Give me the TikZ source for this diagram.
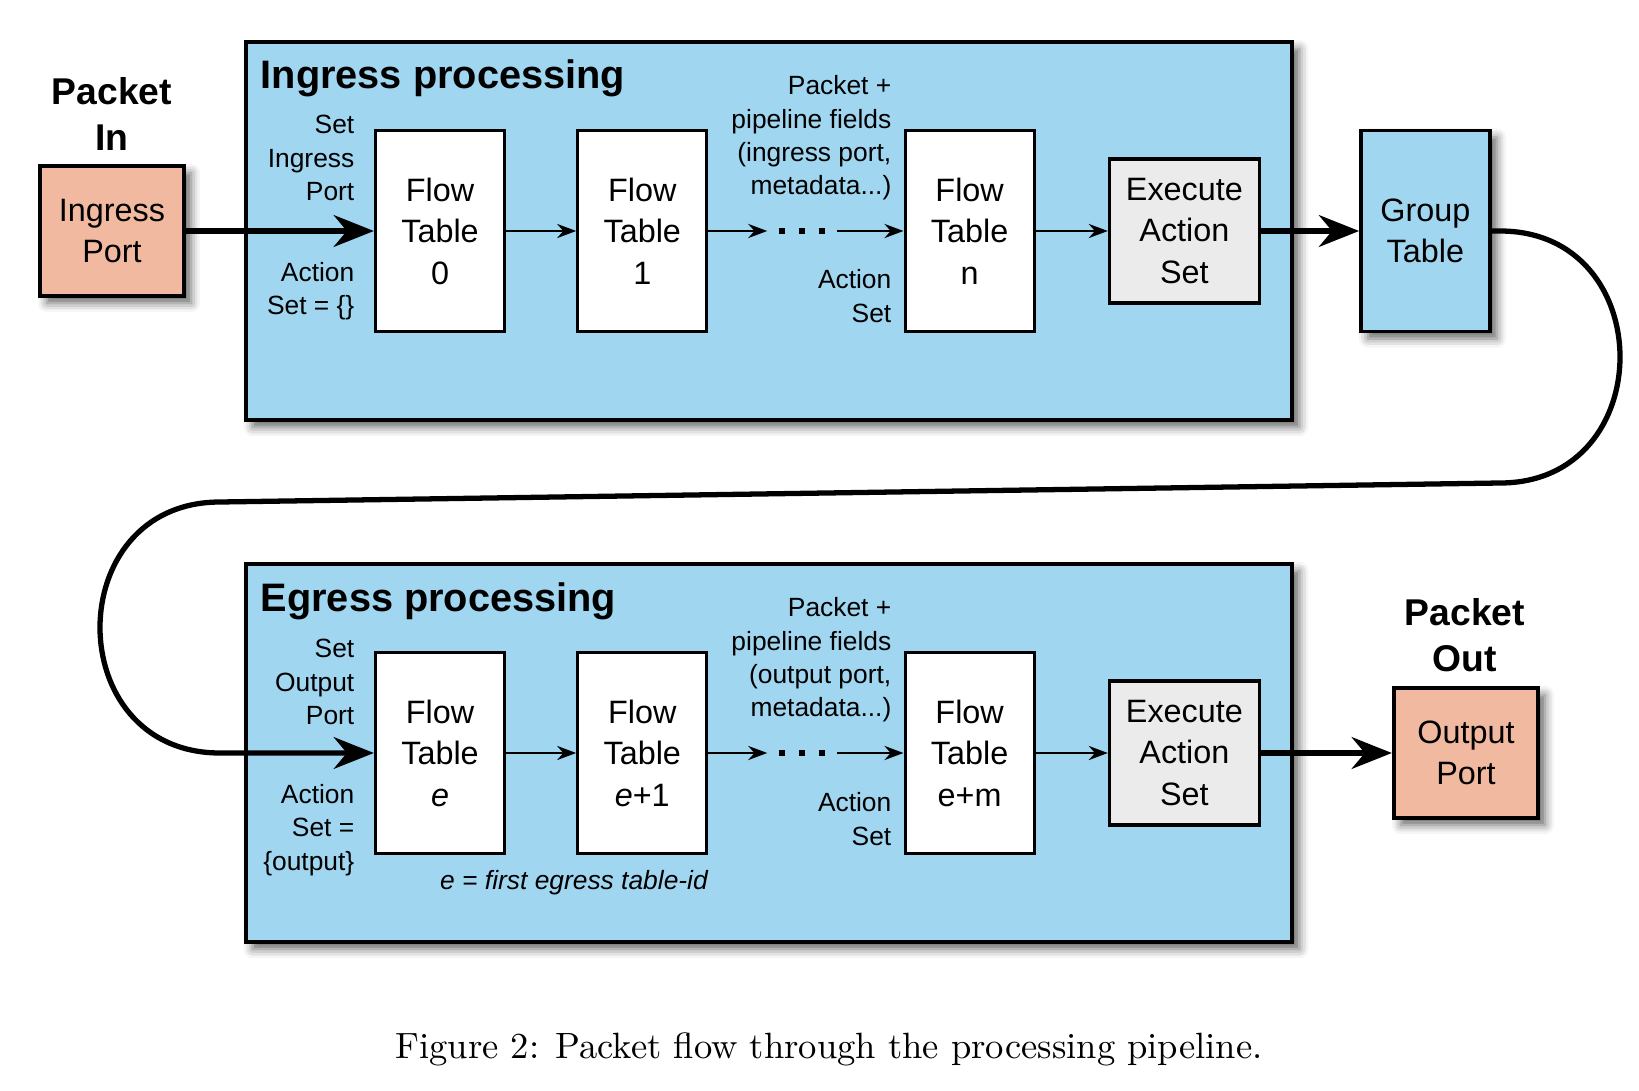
\documentclass[tikz,border=0pt]{standalone}
\usepackage{fontspec}
\usepackage{tikz}
\usetikzlibrary{positioning, arrows.meta, shadows.blur}
\newfontfamily\arialFont{Liberation Sans}
\newcommand{\tableFont}{\arialFont\fontsize{9.2}{11.8}\selectfont}
\newcommand{\noteFont}{\arialFont\fontsize{7.5}{9.5}\selectfont}
\newcommand{\stageFont}{\arialFont\bfseries\fontsize{11.3}{13.5}\selectfont}
\newcommand{\packetFont}{\arialFont\bfseries\fontsize{10.6}{13.1}\selectfont}
\definecolor{stageBlue}{RGB}{160,214,240}
\definecolor{portSalmon}{RGB}{240,185,160}
\definecolor{execGray}{RGB}{235,235,235}

\begin{document}
\begin{tikzpicture}[x=0.01cm, y=-0.01cm,
	boxshadow/.style={blur shadow={shadow xshift=0.7mm, shadow yshift=-0.7mm, shadow blur radius=0.9mm, shadow opacity=60}},
	stage/.style={draw, line width=1.1pt, fill=stageBlue, minimum width=10.46cm, minimum height=3.78cm, inner sep=0, boxshadow},
	flowtable/.style={draw, line width=0.9pt, fill=white, minimum width=1.29cm, minimum height=2.01cm, inner sep=0, align=center, font=\tableFont},
	execbox/.style={draw, line width=0.9pt, fill=execGray, minimum width=1.5cm, minimum height=1.44cm, inner sep=0, align=center, font=\tableFont},
	grouptable/.style={flowtable, fill=stageBlue, line width=1pt, boxshadow},
	portbox/.style={draw, line width=1.2pt, fill=portSalmon, minimum width=1.44cm, minimum height=1.3cm, inner sep=0, align=center, font=\tableFont, boxshadow},
	packet/.style={align=center, inner sep=0, font=\packetFont},
	note/.style={inner sep=0, align=right, font=\noteFont},
	dotsq/.style={fill, minimum size=0.55mm, inner sep=0, outer sep=1.2mm},
	arrow/.style={-{Stealth[length=5.4pt, width=4pt]}, line width=0.75pt},
	bigarrow/.style={-{Stealth[length=11.4pt, width=9pt]}, line width=1.7pt}]
	\useasboundingbox (0,0) rectangle (1639,1091);

	% ingress stage
	\node[stage] (ingress) at (769,231) {};
	\node[anchor=base west, inner sep=0, font=\stageFont] (ingresstitle) at (260,89) {Ingress processing};
	\node[flowtable] (ift0) at (440,231) {Flow\\Table\\0};
	\node[flowtable, right=7mm of ift0] (ift1) {Flow\\Table\\1};
	\node[flowtable, right=19.5mm of ift1] (iftn) {Flow\\Table\\n};
	\node[execbox, right=7.2mm of iftn] (iexec) {Execute\\Action\\Set};
	\node[grouptable, right=9.8mm of iexec] (group) {Group\\Table};
	\node[dotsq] (idotA) at (782,231) {};
	\node[dotsq] (idotB) at (802,231) {};
	\node[dotsq] (idotC) at (822,231) {};
	\node[note, anchor=east] (isetport) at (355,158) {Set\\Ingress\\Port};
	\node[note, anchor=east] (iaction) at (355,291) {Action\\Set = \{\}};
	\node[note, anchor=east] (ifields) at (892,138) {Packet +\\pipeline fields\\(ingress port,\\metadata...)};
	\node[note, anchor=east] (iactionset) at (892,296) {Action\\Set};
	\node[portbox] (inport) at (112,231) {Ingress\\Port};
	\node[packet] (packetin) at (112,114) {Packet\\In};

	% egress stage
	\node[stage] (egress) at (769,753) {};
	\node[anchor=base west, inner sep=0, font=\stageFont] (egresstitle) at (260,611) {Egress processing};
	\node[flowtable] (ete) at (440,753) {Flow\\Table\\\textit{e}};
	\node[flowtable, right=7mm of ete] (ete1) {Flow\\Table\\\textit{e}+1};
	\node[flowtable, right=19.5mm of ete1] (etem) {Flow\\Table\\e+m};
	\node[execbox, right=7.2mm of etem] (eexec) {Execute\\Action\\Set};
	\node[dotsq] (edotA) at (782,753) {};
	\node[dotsq] (edotB) at (802,753) {};
	\node[dotsq] (edotC) at (822,753) {};
	\node[note, anchor=east] (esetport) at (355,682) {Set\\Output\\Port};
	\node[note, anchor=east] (eaction) at (355,830) {Action\\Set =\\\{output\}};
	\node[note, anchor=east] (efields) at (892,660) {Packet +\\pipeline fields\\(output port,\\metadata...)};
	\node[note, anchor=east] (eactionset) at (892,819) {Action\\Set};
	\node[note, font=\noteFont\itshape] (etableid) at (574,883) {e = first egress table-id};
	\node[portbox] (outport) at (1466,753) {Output\\Port};
	\node[packet] (packetout) at (1465,635) {Packet\\Out};

	\node[anchor=base, inner sep=0, font=\fontsize{10.4}{12}\selectfont] (caption) at (829,1058) {Figure 2: Packet flow through the processing pipeline.};

	% connectors
	\draw[bigarrow] (inport) -- (ift0);
	\draw[arrow] (ift0) -- (ift1);
	\draw[arrow] (ift1) -- (idotA);
	\draw[arrow] (idotC) -- (iftn);
	\draw[arrow] (iftn) -- (iexec);
	\draw[bigarrow] (iexec) -- (group);

	\coordinate (loopA) at (1500,231);
	\coordinate (loopB) at (1500,483);
	\coordinate (loopC) at (220,502);
	\coordinate (loopD) at (220,753);
	\draw[bigarrow, line width=1.5pt] (group.east) -- (loopA) .. controls +(160,0) and +(160,0) .. (loopB)
		-- (loopC) .. controls +(-160,0) and +(-160,0) .. (loopD) -- (ete.west);

	\draw[arrow] (ete) -- (ete1);
	\draw[arrow] (ete1) -- (edotA);
	\draw[arrow] (edotC) -- (etem);
	\draw[arrow] (etem) -- (eexec);
	\draw[bigarrow] (eexec) -- (outport);
\end{tikzpicture}
\end{document}
